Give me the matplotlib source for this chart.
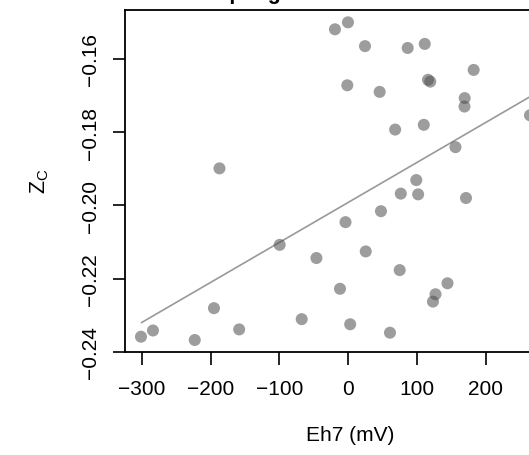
import numpy as np
import matplotlib
matplotlib.use("Agg")
import matplotlib.pyplot as plt

plt.rcParams['font.family'] = ['Liberation Sans', 'DejaVu Sans']
plt.rcParams['mathtext.fontset'] = 'custom'
plt.rcParams['mathtext.rm'] = 'Liberation Sans'
plt.rcParams['mathtext.it'] = 'Liberation Sans:italic'

# Eh7 (mV) and Z_C
eh7 = [-301, -283.6, -222.9, -195, -187, -158.4, -99.6, -67.6, -46.2, -19.3,
       -12, -4, -1.4, -0.4, 2.8, 24.3, 25.4, 45.6, 47.5, 60.6,
       68.1, 74.7, 76.3, 86.3, 98.8, 101.5, 109.7, 111.1, 115.8, 119.1,
       123, 126.7, 144.1, 155.7, 169.1, 168.8, 171, 182.1, 263.9]
zc = [-0.2359, -0.2342, -0.2368, -0.2281, -0.1899, -0.2339, -0.2108, -0.2311, -0.2144, -0.1519,
      -0.2228, -0.2046, -0.1672, -0.1500, -0.2325, -0.1565, -0.2126, -0.1690, -0.2016, -0.2348,
      -0.1793, -0.2177, -0.1968, -0.1570, -0.1931, -0.1970, -0.1780, -0.1559, -0.1657, -0.1662,
      -0.2263, -0.2243, -0.2213, -0.1841, -0.1707, -0.1730, -0.1980, -0.1630, -0.1754]

# fitted line
fit_slope = 1.094e-4
fit_intercept = -0.1992
fit_xrange = [-300, 330]

xticks = [-300, -200, -100, 0, 100, 200]
xticklabels = ['\u2212300', '\u2212200', '\u2212100', '0', '100', '200']
yticks = [-0.24, -0.22, -0.20, -0.18, -0.16]
yticklabels = ['\u22120.24', '\u22120.22', '\u22120.20', '\u22120.18', '\u22120.16']

fig = plt.figure(figsize=(5.29, 4.56), dpi=100)
ax = fig.add_axes([0.2372, 0.2265, 0.8507, 0.7504])

ax.scatter(eh7, zc, s=75, color=(0.3, 0.3, 0.3), alpha=0.55, edgecolors='none', zorder=3)
fx = np.array(fit_xrange)
ax.plot(fx, fit_intercept + fit_slope * fx, color='#999999', lw=1.2, zorder=2)

ax.set_xlim(-323.5, 330)
ax.set_ylim(-0.24, -0.1465)
ax.set_xticks(xticks)
ax.set_xticklabels(xticklabels)
ax.set_yticks(yticks)
ax.set_yticklabels(yticklabels, rotation=90, va='center')

for s in ax.spines.values():
    s.set_linewidth(1.3)
ax.tick_params(direction='out', length=9, width=1.2, labelsize=15, color='black')
ax.tick_params(axis='x', pad=11)
ax.tick_params(axis='y', pad=9)

ax.set_xlabel('Eh7 (mV)', fontsize=15, labelpad=19)
ax.set_ylabel(r'$\mathrm{Z_C}$', fontsize=15.5, labelpad=22)

# title, mostly cut off at the top edge
fig.text(184.8 / 529, 1 + 0.5 / 456, 'Sampling', fontsize=15.5, fontweight='bold',
         ha='left', va='baseline')

fig.savefig('out.png', dpi=100)
